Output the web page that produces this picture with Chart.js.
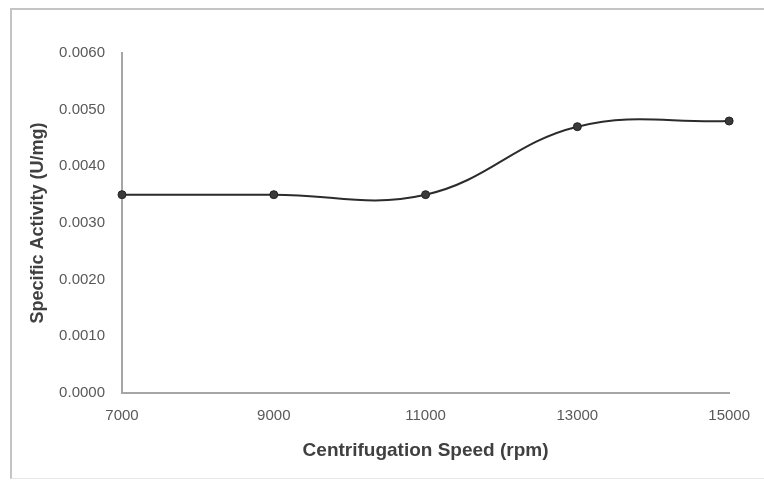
<!DOCTYPE html>
<html>
<head>
<meta charset="utf-8">
<script src="https://cdn.jsdelivr.net/npm/chart.js@4"></script>
<style>
  body { margin: 0; background: #fff; }
  #frame {
    position: absolute; left: 10px; top: 8px; width: 760px; height: 468px;
    border-left: 2px solid #c4c4c4; border-top: 2px solid #c4c4c4; border-bottom: 1px solid #e6e6e6;
  }
  #wrap { position: absolute; left: 0; top: 0; width: 764px; height: 480px; }
</style>
</head>
<body>
<div id="frame"></div>
<div id="wrap"><canvas id="myChart"></canvas></div>
<script>
const speeds = [7000, 9000, 11000, 13000, 15000];
const activity = [0.0035, 0.0035, 0.0035, 0.0047, 0.0048];
const xTicks = [7000, 9000, 11000, 13000, 15000];

document.addEventListener("DOMContentLoaded", () => {
  const ctx = document.getElementById("myChart").getContext("2d");

  const config = {
    type: "line",
    data: {
      datasets: [{
        label: "Specific Activity",
        data: speeds.map((s, i) => ({ x: s, y: activity[i] })),
        borderColor: "#2b2b2b",
        borderWidth: 2,
        tension: 0.4,
        clip: false,
        pointRadius: 4,
        pointBackgroundColor: "#3a3a3a",
        pointBorderColor: "#222",
        pointBorderWidth: 1,
      }],
    },
    options: {
      responsive: true,
      maintainAspectRatio: false,
      animation: false,
      layout: { padding: { top: 53, right: 34, left: 0, bottom: 0 } },
      plugins: { legend: { display: false }, tooltip: { enabled: false } },
      scales: {
        x: {
          type: "linear",
          min: 7000,
          max: 15000,
          afterBuildTicks: (scale) => { scale.ticks = xTicks.map((v) => ({ value: v })); },
          afterFit: (scale) => { scale.height = 87; },
          grid: { display: false, drawTicks: false },
          border: { color: "#a6a6a6", width: 2 },
          ticks: {
            color: "#595959",
            padding: 14,
            font: { family: "Liberation Sans", size: 15 },
            maxRotation: 0,
            callback: (v) => String(v),
          },
          title: {
            display: true,
            text: "Centrifugation Speed (rpm)",
            color: "#404040",
            font: { family: "Liberation Sans", size: 19, weight: "bold" },
            padding: { top: 0, bottom: 18 },
          },
        },
        y: {
          min: 0,
          max: 0.006,
          afterFit: (scale) => { scale.width = 122; },
          grid: { display: false, drawTicks: false },
          border: { color: "#a6a6a6", width: 2 },
          ticks: {
            stepSize: 0.001,
            color: "#595959",
            padding: 17,
            font: { family: "Liberation Sans", size: 15 },
            callback: (v) => v.toFixed(4),
          },
          title: {
            display: true,
            text: "Specific Activity (U/mg)",
            color: "#404040",
            font: { family: "Liberation Sans", size: 18, weight: "bold" },
            padding: { top: 27, bottom: 0 },
          },
        },
      },
    },
  };

  new Chart(ctx, config);
});
</script>
</body>
</html>
